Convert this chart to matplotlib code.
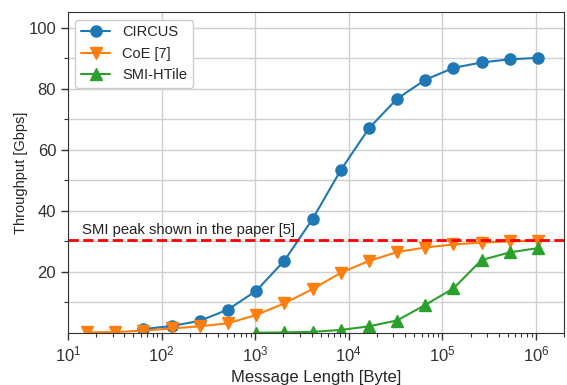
import numpy as np
import matplotlib
matplotlib.use("Agg")
import matplotlib.pyplot as plt
import seaborn as sns

# message sizes in bytes (powers of two)
sizes_coe = [2**k for k in range(4, 21)]      # 16 B .. 1 MB
sizes_circus = [2**k for k in range(6, 21)]   # 64 B .. 1 MB
sizes_smi = [2**k for k in range(10, 21)]     # 1 KB .. 1 MB

circus = [1.3, 2.3, 4.0, 7.7, 13.8, 23.7, 37.3, 53.3, 67.0, 76.7, 82.9, 86.8, 88.6, 89.6, 90.1]
coe = [0.2, 0.3, 0.8, 1.5, 2.2, 3.2, 5.9, 9.7, 14.4, 19.7, 23.6, 26.5, 28.0, 29.0, 29.6, 30.0, 30.2]
smi = [0.1, 0.2, 0.4, 1.0, 2.2, 4.1, 9.2, 14.6, 23.9, 26.4, 27.8]

smi_peak = 30.6

sns.set_style("ticks")
plt.rcParams['font.family'] = ['Liberation Sans', 'DejaVu Sans']
plt.rcParams['mathtext.fontset'] = 'custom'
plt.rcParams['mathtext.rm'] = 'Liberation Sans'

fig, ax = plt.subplots(figsize=(5.67, 3.85), dpi=100)
fig.subplots_adjust(left=0.12, right=0.995, top=0.968, bottom=0.135)

ax.plot(sizes_circus, circus, marker='o', markersize=8, lw=1.5, color='#1f77b4', label='CIRCUS')
ax.plot(sizes_coe, coe, marker='v', markersize=8, lw=1.5, color='#ff7f0e', label='CoE [7]')
ax.plot(sizes_smi, smi, marker='^', markersize=8, lw=1.5, color='#2ca02c', label='SMI-HTile')

ax.axhline(smi_peak, color='red', ls='--', lw=2)
ax.text(14, smi_peak + 1.8, 'SMI peak shown in the paper [5]', fontsize=10.7, color='#222222')

ax.set_xscale('log')
ax.set_xlim(10, 2e6)
ax.set_ylim(0, 105)
ax.set_yticks([20, 40, 60, 80, 100])
ax.set_yticks([10, 30, 50, 70, 90], minor=True)
ax.grid(True, which='major', color='#d0d0d0', lw=1)
ax.grid(True, which='minor', axis='y', color='#d0d0d0', lw=1)
ax.set_axisbelow(True)

ax.set_xlabel('Message Length [Byte]', fontsize=12)
ax.set_ylabel('Throughput [Gbps]', fontsize=10.5, labelpad=0)
ax.tick_params(which='major', labelsize=12, colors='#333333', length=5, width=1)
ax.tick_params(which='minor', colors='#333333', length=3, width=0.8)
for s in ax.spines.values():
    s.set_color('#333333')

ax.legend(loc='upper left', fontsize=10.5, framealpha=1, edgecolor='#cccccc')

fig.savefig('out.png', dpi=100)
